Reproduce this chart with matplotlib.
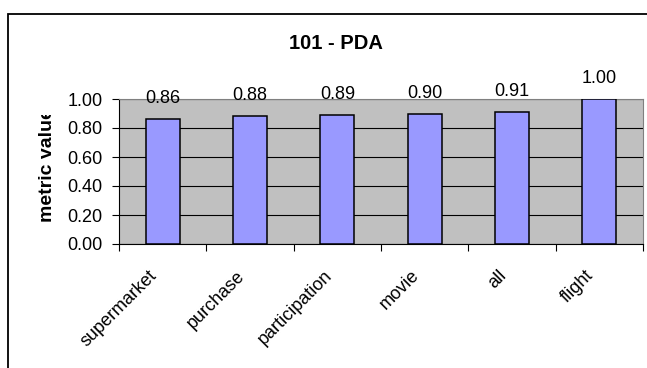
import numpy as np
from matplotlib import pyplot as plt
from matplotlib.patches import Rectangle
from matplotlib.transforms import Bbox, TransformedBbox, ScaledTranslation

plt.rcParams['font.family'] = ['Liberation Sans', 'DejaVu Sans']

categories = ['supermarket', 'purchase', 'participation', 'movie', 'all', 'flight']
values = [0.86, 0.88, 0.89, 0.90, 0.91, 1.00]
value_labels = ['0.86', '0.88', '0.89', '0.90', '0.91', '1.00']
yticks = [0.0, 0.2, 0.4, 0.6, 0.8, 1.0]
ytick_labels = ['0.00', '0.20', '0.40', '0.60', '0.80', '1.00']
title = '101 - PDA'
ylabel = 'metric value'

W, H = 647, 368
fig = plt.figure(figsize=(W / 100, H / 100), dpi=100)
fig.patch.set_facecolor('white')

# chart frame (runs off the right and bottom edge like the original)
fig.add_artist(Rectangle((8 / W, -0.2), 1.2, (H - 14) / H + 0.2,
                         transform=fig.transFigure, fill=False,
                         edgecolor='black', lw=1.3))

left, right, top, bottom = 119, 643, 99, 244
ax = fig.add_axes([left / W, (H - bottom) / H, (right - left) / W, (bottom - top) / H])
ax.set_facecolor('#C0C0C0')

x = np.arange(len(categories))
ax.bar(x, values, width=0.39, color='#9999FF', edgecolor='black', lw=1.1, zorder=3)

for xi, v, lab in zip(x, values, value_labels):
    ax.annotate(lab, (xi, v), xytext=(0, 11.5), textcoords='offset points',
                ha='center', va='baseline', fontsize=13, annotation_clip=False)

ax.set_xlim(-0.5, len(categories) - 0.5)
ax.set_ylim(0, 1)
ax.set_yticks(yticks)
ax.set_yticklabels(ytick_labels, fontsize=13)
ax.yaxis.grid(True, color='black', lw=0.8, zorder=1)
ax.set_axisbelow(True)

ax.set_xticks(np.arange(len(categories) + 1) - 0.5, minor=False)
ax.set_xticklabels([''] * (len(categories) + 1))
ax.set_xticks(x, minor=True)
ax.set_xticklabels(categories, minor=True, fontsize=13, rotation=45,
                   rotation_mode='anchor', ha='right', va='center')
ax.tick_params(axis='x', which='minor', length=0, pad=21)
ax.tick_params(axis='x', which='major', length=5, width=0.8, direction='out')
ax.tick_params(axis='y', length=5, width=0.8, direction='out', pad=7)
shift = ScaledTranslation(-8 / 100, 0, fig.dpi_scale_trans)
for lab in ax.get_xticklabels(minor=True):
    lab.set_transform(lab.get_transform() + shift)

for side in ['left', 'bottom']:
    ax.spines[side].set_color('black')
    ax.spines[side].set_linewidth(0.8)
for side in ['top', 'right']:
    ax.spines[side].set_color('#808080')
    ax.spines[side].set_linewidth(0.8)

fig.text(336 / W, 1 - 49 / H, title, ha='center', va='baseline',
         fontsize=14.5, fontweight='bold')

yl = fig.text(52 / W, 1 - 222 / H, ylabel, rotation=90, rotation_mode='anchor',
              ha='left', va='baseline', fontsize=14, fontweight='bold')
yl.set_clip_box(TransformedBbox(Bbox.from_extents(0, 0, 1, 1 - 115 / H), fig.transFigure))
yl.set_clip_on(True)

fig.savefig('out.png', dpi=100)
